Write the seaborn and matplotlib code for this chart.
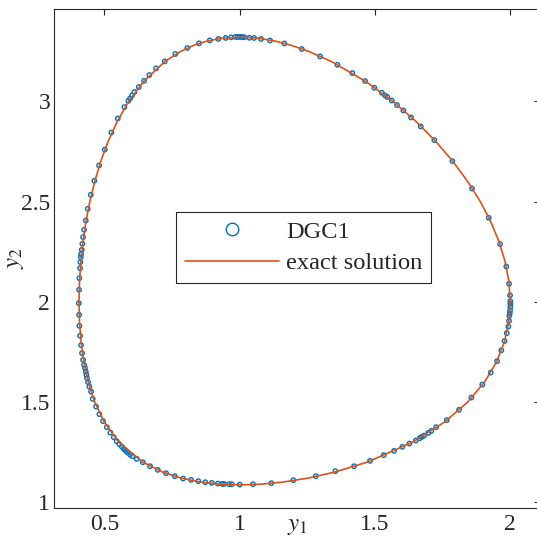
import matplotlib
matplotlib.use("Agg")
import matplotlib.pyplot as plt
from matplotlib.lines import Line2D
from matplotlib.ticker import FormatStrFormatter
import seaborn as sns
import pandas as pd

# ---- data ----
dgc1_y1 = [0.5015, 0.5259, 0.5495, 0.5739, 0.5887, 0.5950, 0.6024, 0.6109, 0.6271, 0.6467,
           0.6663, 0.6911, 0.7232, 0.7624, 0.8067, 0.8500, 0.8895,
           0.9213, 0.9486, 0.9682, 0.9841, 0.9930, 1.0015, 1.0100, 1.0174, 1.0358, 1.0532, 1.0791,
           1.1123, 1.1652, 1.2295, 1.2971, 1.3611, 1.4165, 1.4635, 1.4978, 1.5251, 1.5373, 1.5458,
           1.5621, 1.5817, 1.6050, 1.6334, 1.6693, 1.7195, 1.7860, 1.8588, 1.9205, 1.9623, 1.9856,
           1.9956, 1.9993, 2.0004, 2.0004, 2.0004, 1.9993, 1.9982, 1.9967, 1.9956, 1.9930, 1.9871,
           1.9790, 1.9671, 1.9512, 1.9279, 1.8969, 1.8563, 1.8108, 1.7654, 1.7258, 1.7084, 1.6973,
           1.6815, 1.6730, 1.6656, 1.6508, 1.6271, 1.6013, 1.5706, 1.5325, 1.4819, 1.4228, 1.3537,
           1.2812, 1.1985, 1.1171,
           1.0495, 1.0004, 0.9708, 0.9608, 0.9424, 0.9350, 0.9191, 0.8969, 0.8732, 0.8474, 0.8204,
           0.7908, 0.7602, 0.7280, 0.6973, 0.6689, 0.6419, 0.6197, 0.6035, 0.5950, 0.5865, 0.5791,
           0.5717, 0.5643, 0.5554, 0.5458, 0.5347, 0.5222, 0.5089, 0.4952, 0.4815, 0.4693, 0.4571,
           0.4508, 0.4446, 0.4398, 0.4361, 0.4335, 0.4313, 0.4287, 0.4250, 0.4213, 0.4176, 0.4139,
           0.4102, 0.4076, 0.4065, 0.4054, 0.4065, 0.4076, 0.4102, 0.4113, 0.4128, 0.4139, 0.4165,
           0.4187, 0.4213, 0.4250, 0.4313, 0.4387, 0.4497, 0.4630, 0.4804]
dgc1_y2 = [2.760, 2.845, 2.915, 2.972, 3.003, 3.015, 3.030, 3.047, 3.072, 3.103,
           3.132, 3.165, 3.200, 3.237, 3.267, 3.290, 3.305,
           3.312, 3.317, 3.320, 3.322, 3.322, 3.322, 3.322, 3.320, 3.318, 3.317, 3.312,
           3.3045, 3.2896, 3.2616, 3.2247, 3.1832, 3.1418, 3.1018, 3.0684, 3.0434, 3.0300, 3.0220,
           3.0050, 2.9820, 2.9551, 2.9201, 2.8752, 2.8073, 2.7024, 2.5657, 2.4194, 2.2881, 2.1762,
           2.0899, 2.0325, 2.0025, 1.9900, 1.9750, 1.9576, 1.9426, 1.9301, 1.9051, 1.8767, 1.8437,
           1.8043, 1.7579, 1.7039, 1.6470, 1.5871, 1.5222, 1.4608, 1.4094, 1.3744, 1.3560, 1.3460,
           1.3325, 1.3260, 1.3195, 1.3075, 1.2925, 1.2761, 1.2561, 1.2347, 1.2062, 1.1797, 1.1548,
           1.1298, 1.1098, 1.0948,
           1.0898, 1.0879, 1.0898, 1.0898, 1.0914, 1.0914, 1.0929, 1.0963, 1.0998, 1.1048, 1.1113,
           1.1178, 1.1298, 1.1448, 1.1613, 1.1797, 1.1997, 1.2162, 1.2296, 1.2376, 1.2476, 1.2561,
           1.2661, 1.2776, 1.2895, 1.3045, 1.3245, 1.3475, 1.3744, 1.4044, 1.4394, 1.4773, 1.5157,
           1.5522, 1.5771, 1.5991, 1.6191, 1.6355, 1.6520, 1.6690, 1.6855, 1.7104, 1.7439, 1.7838,
           1.8303, 1.8802, 1.9351, 1.9935, 2.0599, 2.1183, 2.1682, 2.1982, 2.2232, 2.2381, 2.2596,
           2.2896, 2.3230, 2.3595, 2.4059, 2.4643, 2.5342, 2.6041, 2.6805]

exact_y1 = [0.4064, 0.4081, 0.4129, 0.4208, 0.4318, 0.4462, 0.4643, 0.4864, 0.5137, 0.5474,
            0.5897, 0.6451, 0.7242, 0.7820, 0.8300, 0.8756, 0.9300, 1.0000, 1.0700, 1.1355,
            1.1913, 1.2552, 1.3383, 1.4659, 1.5670, 1.6520, 1.7252, 1.7885, 1.8430, 1.8895,
            1.9280, 1.9587, 1.9812, 1.9952, 2.0000, 1.9949, 1.9785, 1.9494, 1.9052, 1.8428,
            1.7573, 1.6400, 1.4716, 1.3508, 1.2520, 1.1574, 1.0800, 1.0000, 0.9300, 0.8575,
            0.7843, 0.7159, 0.6419, 0.5531, 0.4996, 0.4643, 0.4403, 0.4241, 0.4138, 0.4081, 0.4064]
exact_y2 = [2.00, 2.10, 2.20, 2.30, 2.40, 2.50, 2.60, 2.70, 2.80, 2.90,
            3.00, 3.10, 3.20, 3.25, 3.28, 3.30, 3.315, 3.321, 3.316, 3.30,
            3.28, 3.25, 3.20, 3.10, 3.00, 2.90, 2.80, 2.70, 2.60, 2.50,
            2.40, 2.30, 2.20, 2.10, 2.00, 1.90, 1.80, 1.70, 1.60, 1.50,
            1.40, 1.30, 1.20, 1.15, 1.12, 1.10, 1.090, 1.0865, 1.0895, 1.10,
            1.12, 1.15, 1.20, 1.30, 1.40, 1.50, 1.60, 1.70, 1.80, 1.90, 2.00]

x_ticks = [0.5, 1, 1.5, 2]
y_ticks = [1, 1.5, 2, 2.5, 3]
labels = ["DGC1", "exact solution"]

# ---- styling ----
sns.set_theme(style="white")
plt.rcParams["font.family"] = ["Liberation Serif", "DejaVu Serif"]
plt.rcParams["mathtext.fontset"] = "stix"

blue = "#0072BD"
orange = "#D95319"
dark = "#262626"

fig = plt.figure(figsize=(5.37, 5.47), dpi=100)
ax = fig.add_axes([54.3 / 537, 1 - 508 / 547, 485.7 / 537, 499.3 / 547])

df_pts = pd.DataFrame({"y1": dgc1_y1, "y2": dgc1_y2})
df_exact = pd.DataFrame({"y1": exact_y1, "y2": exact_y2})

sns.scatterplot(data=df_pts, x="y1", y="y2", ax=ax, marker="o", s=10,
                facecolor="none", edgecolor=blue, linewidth=1.0, zorder=2, legend=False)
sns.lineplot(data=df_exact, x="y1", y="y2", ax=ax, sort=False, estimator=None,
             color=orange, linewidth=1.2, zorder=3, legend=False)

ax.set_xlim(0.315, 2.110)
ax.set_ylim(0.971, 3.463)
ax.set_xticks(x_ticks)
ax.set_yticks(y_ticks)
ax.xaxis.set_major_formatter(FormatStrFormatter("%g"))
ax.yaxis.set_major_formatter(FormatStrFormatter("%g"))
ax.tick_params(direction="in", top=True, right=True, length=4, width=0.8,
               colors=dark, labelsize=17, pad=4)
ax.tick_params(axis="y", pad=3)
for sp in ax.spines.values():
    sp.set_color(dark)
    sp.set_linewidth(0.8)

ax.set_xlabel("$y_1$", fontsize=18, color=dark)
ax.set_ylabel("$y_2$", fontsize=18, color=dark)
ax.xaxis.set_label_coords(0.5, -0.015)
ax.yaxis.set_label_coords(-0.058, 0.50)

handles = [
    Line2D([], [], linestyle="none", marker="o", markersize=9, markerfacecolor="none",
           markeredgecolor=blue, markeredgewidth=1.0),
    Line2D([], [], color=orange, linewidth=1.2),
]
leg = ax.legend(handles, labels, loc="upper left", bbox_to_anchor=(0.2506, 0.5928),
                borderaxespad=0, fontsize=17.6, frameon=True, fancybox=False,
                handlelength=3.85, handletextpad=0.3, labelspacing=0.38, borderpad=0.35)
leg.get_frame().set_edgecolor(dark)
leg.get_frame().set_linewidth(0.8)
leg.get_frame().set_facecolor("white")
leg.get_frame().set_alpha(1)

fig.savefig("out.png", dpi=100)
